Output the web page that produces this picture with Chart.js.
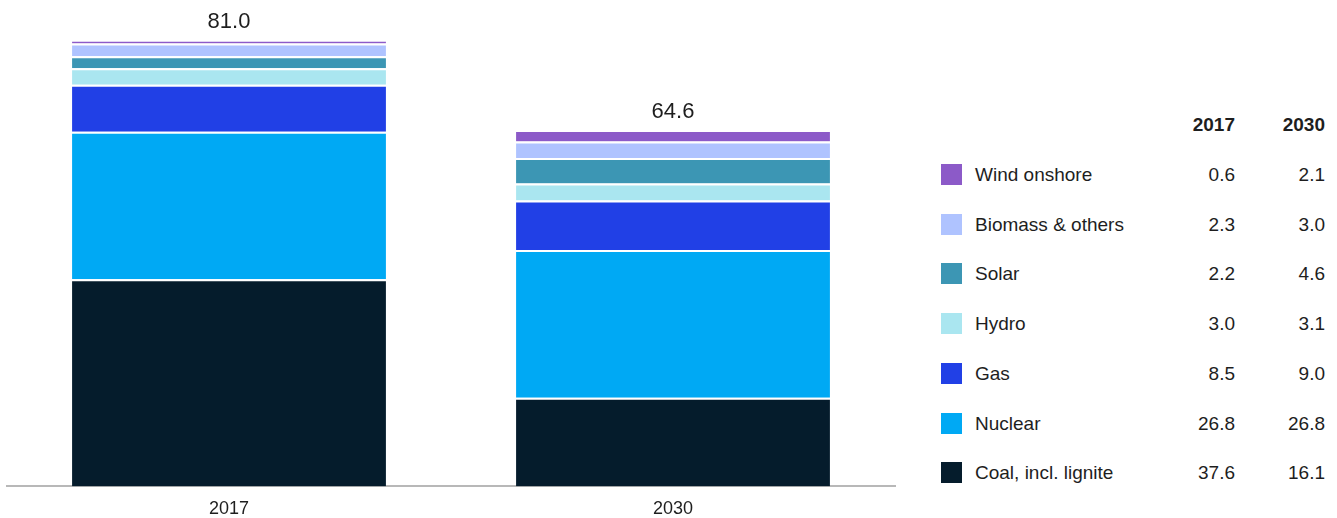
<!DOCTYPE html>
<html>
<head>
<meta charset="utf-8">
<script src="https://cdn.jsdelivr.net/npm/chart.js@4"></script>
<style>
  body { margin: 0; background: #fff; font-family: "Liberation Sans", Arial, sans-serif; color: #1e1e1e; overflow: hidden; }
  #wrap { position: absolute; left: 0; top: 0; width: 900px; height: 518px; overflow: hidden; }
  #legend { position: absolute; left: 941px; top: 0; width: 390px; }
  .hdr { position: absolute; top: 114px; font-weight: bold; font-size: 19px; width: 80px; text-align: right; }
  .row { position: absolute; left: 0; height: 22px; width: 390px; font-size: 19px; line-height: 22px; }
  .sw { position: absolute; left: 0; top: 0; width: 21px; height: 21px; }
  .lab { position: absolute; left: 34px; top: 0; white-space: nowrap; }
  .val { position: absolute; top: 0; width: 80px; text-align: right; }
</style>
</head>
<body>
<div id="wrap"><canvas id="myChart" width="900" height="532"></canvas></div>
<div id="legend"></div>
<script>
// data
var years = ["2017", "2030"];
var coal = [37.6, 16.1];
var nuclear = [26.8, 26.8];
var gas = [8.5, 9.0];
var hydro = [3.0, 3.1];
var solar = [2.2, 4.6];
var biomass = [2.3, 3.0];
var wind = [0.6, 2.1];
var totals = ["81.0", "64.6"];

// bottom to top
var series = [
    { label: "Coal, incl. lignite", data: coal, color: "#051c2c" },
    { label: "Nuclear", data: nuclear, color: "#00a9f4" },
    { label: "Gas", data: gas, color: "#2140e6" },
    { label: "Hydro", data: hydro, color: "#aae6f0" },
    { label: "Solar", data: solar, color: "#3c96b4" },
    { label: "Biomass & others", data: biomass, color: "#afc3ff" },
    { label: "Wind onshore", data: wind, color: "#8c5ac8" }
];

var totalLabels = {
    id: "totalLabels",
    afterDatasetsDraw: function (chart) {
        var ctx = chart.ctx;
        var x = chart.scales.x, y = chart.scales.y;
        ctx.save();
        ctx.font = "22px 'Liberation Sans', Arial, sans-serif";
        ctx.fillStyle = "#1e1e1e";
        ctx.textAlign = "center";
        ctx.textBaseline = "alphabetic";
        years.forEach(function (yr, i) {
            var sum = 0;
            series.forEach(function (s) { sum += s.data[i]; });
            ctx.fillText(totals[i], x.getPixelForValue(i), y.getPixelForValue(sum) - 12);
        });
        ctx.restore();
    }
};

var ctx = document.getElementById("myChart").getContext("2d");
var myChart = new Chart(ctx, {
    type: 'bar',
    data: {
        labels: years,
        datasets: series.map(function (s) {
            return {
                label: s.label,
                data: s.data,
                backgroundColor: s.color,
                borderColor: '#ffffff',
                borderWidth: { top: 2, bottom: 0, left: 0, right: 0 },
                borderSkipped: false,
                barPercentage: 1,
                categoryPercentage: 0.707
            };
        })
    },
    options: {
        responsive: false,
        animation: false,
        layout: { padding: { left: 7, right: 5, top: 0, bottom: 0 } },
        plugins: {
            legend: { display: false },
            tooltip: { enabled: false }
        },
        scales: {
            x: {
                stacked: true,
                grid: { display: false, drawTicks: false },
                border: { display: true, color: '#b8b8b8', width: 2 },
                ticks: {
                    padding: 12,
                    color: '#1e1e1e',
                    font: { family: "'Liberation Sans', Arial, sans-serif", size: 18 }
                }
            },
            y: {
                stacked: true,
                display: false,
                min: 0,
                max: 88.3
            }
        }
    },
    plugins: [totalLabels]
});

// legend table, top row first
var legend = document.getElementById("legend");
var h1 = document.createElement("div");
h1.className = "hdr"; h1.style.left = "214px"; h1.textContent = years[0];
var h2 = document.createElement("div");
h2.className = "hdr"; h2.style.left = "304px"; h2.textContent = years[1];
legend.appendChild(h1);
legend.appendChild(h2);
series.slice().reverse().forEach(function (s, k) {
    var row = document.createElement("div");
    row.className = "row";
    row.style.top = (164 + k * 49.7) + "px";
    row.innerHTML = '<div class="sw" style="background:' + s.color + '"></div>' +
        '<div class="lab">' + s.label + '</div>' +
        '<div class="val" style="left:214px">' + s.data[0].toFixed(1) + '</div>' +
        '<div class="val" style="left:304px">' + s.data[1].toFixed(1) + '</div>';
    legend.appendChild(row);
});
</script>
</body>
</html>
